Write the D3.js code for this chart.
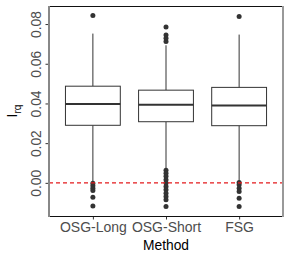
<!DOCTYPE html>
<html>
<head>
<meta charset="utf-8">
<script src="https://cdn.jsdelivr.net/npm/d3@7"></script>
<style>
  body { margin: 0; background: #fff; }
  svg { display: block; font-family: "Liberation Sans", Arial, sans-serif; }
</style>
</head>
<body>
<svg id="chart" width="290" height="260"></svg>
<script>
// values
const methods = [`OSG-Long`, `OSG-Short`, `FSG`]
const q1 = [0.0290, 0.0308, 0.0288]
const medians = [0.0397, 0.0393, 0.0390]
const q3 = [0.0487, 0.0467, 0.0481]
const whiskerLow = [0.0005, 0.0074, 0.0005]
const whiskerHigh = [0.0752, 0.0693, 0.0747]
const outliers = [
  [0.0843, -0.0002, -0.0014, -0.0027, -0.0039, -0.0072, -0.0116],
  [0.0712, 0.0728, 0.0745, 0.0785, 0.0063, 0.0049, 0.0033, 0.0016, -0.0001,
    -0.0018, -0.0035, -0.0052, -0.0069, -0.0085, -0.0119],
  [0.0838, 0.0002, -0.0010, -0.0027, -0.0044, -0.0077, -0.0119],
]
const yTicks = [0, 0.02, 0.04, 0.06, 0.08]
const refLine = 0

//
// Layout
//
const panel = { left: 49, right: 283, top: 6, bottom: 216 }
const svg = d3.select(`#chart`)

const x = d3.scalePoint()
  .domain(methods)
  .range([panel.left, panel.right])
  .padding(0.6)
const boxWidth = x.step() * 0.75

const y = d3.scaleLinear()
  .domain([-0.0167, 0.0891])
  .range([panel.bottom, panel.top])

const boxes = methods.map((m, i) => ({
  method: m,
  q1: q1[i],
  median: medians[i],
  q3: q3[i],
  lo: whiskerLow[i],
  hi: whiskerHigh[i],
  out: outliers[i],
}))

//
// Boxes
//
const g = svg.append(`g`)
const box = g.selectAll(`g.box`).data(boxes).join(`g`).attr(`class`, `box`)

box.append(`line`)
  .attr(`x1`, (d) => x(d.method)).attr(`x2`, (d) => x(d.method))
  .attr(`y1`, (d) => y(d.q3)).attr(`y2`, (d) => y(d.hi))
  .attr(`stroke`, `#333`).attr(`stroke-width`, 1)
box.append(`line`)
  .attr(`x1`, (d) => x(d.method)).attr(`x2`, (d) => x(d.method))
  .attr(`y1`, (d) => y(d.q1)).attr(`y2`, (d) => y(d.lo))
  .attr(`stroke`, `#333`).attr(`stroke-width`, 1)
box.append(`rect`)
  .attr(`x`, (d) => x(d.method) - boxWidth / 2)
  .attr(`width`, boxWidth)
  .attr(`y`, (d) => y(d.q3))
  .attr(`height`, (d) => y(d.q1) - y(d.q3))
  .attr(`fill`, `#fff`).attr(`stroke`, `#333`).attr(`stroke-width`, 1)
box.append(`line`)
  .attr(`x1`, (d) => x(d.method) - boxWidth / 2)
  .attr(`x2`, (d) => x(d.method) + boxWidth / 2)
  .attr(`y1`, (d) => y(d.median)).attr(`y2`, (d) => y(d.median))
  .attr(`stroke`, `#333`).attr(`stroke-width`, 2)

box.selectAll(`circle`)
  .data((d) => d.out.map((v) => ({ method: d.method, v })))
  .join(`circle`)
  .attr(`cx`, (d) => x(d.method))
  .attr(`cy`, (d) => y(d.v))
  .attr(`r`, 2.5)
  .attr(`fill`, `#333`)

// reference line at 0
g.append(`line`)
  .attr(`x1`, panel.left).attr(`x2`, panel.right)
  .attr(`y1`, y(refLine)).attr(`y2`, y(refLine))
  .attr(`stroke`, `#e41a1c`).attr(`stroke-width`, 1.1)
  .attr(`stroke-dasharray`, `4,3`)

//
// Panel border
//
svg.append(`line`).attr(`x1`, panel.left).attr(`x2`, panel.right)
  .attr(`y1`, panel.top + 0.5).attr(`y2`, panel.top + 0.5).attr(`stroke`, `#111`)
svg.append(`line`).attr(`x1`, panel.left).attr(`x2`, panel.right)
  .attr(`y1`, panel.bottom + 0.5).attr(`y2`, panel.bottom + 0.5).attr(`stroke`, `#111`)
svg.append(`line`).attr(`x1`, panel.left).attr(`x2`, panel.left)
  .attr(`y1`, panel.top).attr(`y2`, panel.bottom + 1).attr(`stroke`, `#888`).attr(`stroke-width`, 2)
svg.append(`line`).attr(`x1`, panel.right).attr(`x2`, panel.right)
  .attr(`y1`, panel.top).attr(`y2`, panel.bottom + 1).attr(`stroke`, `#999`).attr(`stroke-width`, 2)

//
// Axes
//
const yAxis = svg.append(`g`)
  .attr(`transform`, `translate(${panel.left - 1},0)`)
  .call(d3.axisLeft(y).tickValues(yTicks).tickFormat(d3.format(`.2f`)).tickSize(2.5).tickPadding(0))
yAxis.select(`.domain`).remove()
yAxis.selectAll(`.tick line`).attr(`stroke`, `#333`)
yAxis.selectAll(`.tick text`)
  .attr(`x`, null).attr(`dy`, null)
  .attr(`transform`, `translate(-7,0) rotate(-90)`)
  .attr(`text-anchor`, `middle`)
  .attr(`fill`, `#4d4d4d`)
  .style(`font-size`, `13.8px`)

const xAxis = svg.append(`g`)
  .attr(`transform`, `translate(0,${panel.bottom + 1})`)
  .call(d3.axisBottom(x).tickSize(2.5).tickPadding(3))
xAxis.select(`.domain`).remove()
xAxis.selectAll(`.tick line`).attr(`stroke`, `#333`)
xAxis.selectAll(`.tick text`)
  .attr(`dy`, null).attr(`y`, 15)
  .attr(`fill`, `#4d4d4d`)
  .style(`font-size`, `14px`)

// titles
svg.append(`text`)
  .attr(`x`, (panel.left + panel.right) / 2)
  .attr(`y`, 250)
  .attr(`text-anchor`, `middle`)
  .style(`font-size`, `13.8px`)
  .text(`Method`)

const yTitle = svg.append(`text`)
  .attr(`transform`, `translate(17,${(panel.top + panel.bottom) / 2}) rotate(-90)`)
  .attr(`text-anchor`, `middle`)
  .style(`font-size`, `14px`)
yTitle.append(`tspan`).text(`I`)
yTitle.append(`tspan`).attr(`dy`, 3.5).style(`font-size`, `10px`).text(`rq`)
</script>
</body>
</html>
